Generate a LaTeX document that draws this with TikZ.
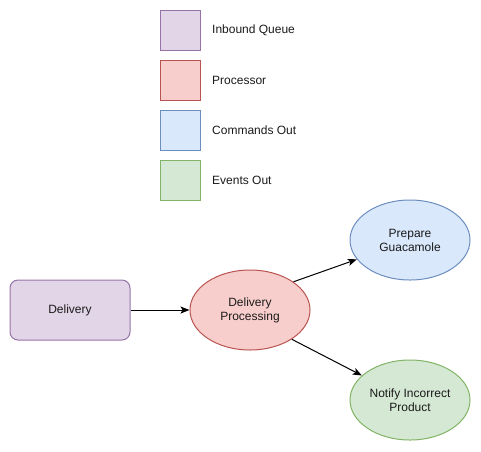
\documentclass[tikz,border=0pt]{standalone}
\usepackage{fontspec}
\setmainfont{Liberation Sans}
\usetikzlibrary{shapes.geometric,arrows.meta}
\definecolor{pfill}{HTML}{E1D5E7}\definecolor{pline}{HTML}{9673A6}
\definecolor{rfill}{HTML}{F8CECC}\definecolor{rline}{HTML}{B85450}
\definecolor{bfill}{HTML}{DAE8FC}\definecolor{bline}{HTML}{6C8EBF}
\definecolor{gfill}{HTML}{D5E8D4}\definecolor{gline}{HTML}{82B366}
\definecolor{txt}{HTML}{1A1A1A}
\tikzset{
  every node/.style={font=\fontsize{12}{14}\selectfont, text=txt},
  legbox/.style={draw, line width=1pt, minimum width=40pt, minimum height=40pt, inner sep=0pt},
  leglabel/.style={anchor=west, inner sep=0pt},
  ell/.style={ellipse, draw, line width=1pt, minimum width=120pt, minimum height=80pt, inner sep=0pt, align=center},
  conn/.style={line width=1pt, -{Stealth[length=9pt,width=7pt,inset=2pt]}},
}
\begin{document}
\begin{tikzpicture}[x=1pt,y=-1pt]
\useasboundingbox (0,0) rectangle (481,451);
\node[legbox, fill=pfill, draw=pline] (l1) at (180,30) {};
\node[legbox, fill=rfill, draw=rline] (l2) at (180,80) {};
\node[legbox, fill=bfill, draw=bline] (l3) at (180,130) {};
\node[legbox, fill=gfill, draw=gline] (l4) at (180,180) {};
\node[leglabel] (t1) at (212,30) {Inbound Queue};
\node[leglabel] (t2) at (212,80) {Processor};
\node[leglabel] (t3) at (212,130) {Commands Out};
\node[leglabel] (t4) at (212,180) {Events Out};
\node[draw=pline, fill=pfill, line width=1pt, rounded corners=8pt, minimum width=120pt, minimum height=60pt, inner sep=0pt] (del) at (70,310) {Delivery};
\node[ell, fill=rfill, draw=rline] (dp) at (250,310) {Delivery\\Processing};
\node[ell, fill=bfill, draw=bline] (pg) at (410,240) {Prepare\\Guacamole};
\node[ell, fill=gfill, draw=gline] (nip) at (410,400) {Notify Incorrect\\Product};
\draw[conn] (del.east) -- (dp.west);
\draw[conn] (dp.33) -- (pg.200.7);
\draw[conn] (dp.-35) -- (nip.153.4);
\end{tikzpicture}
\end{document}
